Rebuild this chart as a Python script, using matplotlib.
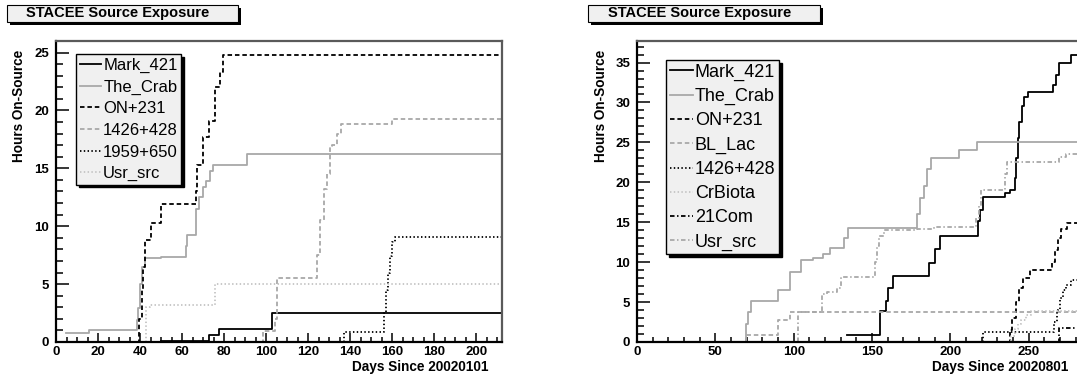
import matplotlib
matplotlib.use("Agg")
import matplotlib.pyplot as plt
from matplotlib.patches import Rectangle
from matplotlib.ticker import MultipleLocator

plt.rcParams['font.family'] = ['Liberation Sans', 'DejaVu Sans']

# ---- left panel data (days since 2002-01-01, cumulative hours) ----
l_mark421_d = [50, 72.8, 77.7, 103.0, 212]
l_mark421_h = [0.08, 0.6, 1.1, 2.5, 2.5]
l_crab_d = [4.9, 15.9, 38.4, 39.2, 40.2, 41.0, 42.3, 50.0, 61.7, 62.5, 66.6, 68.2, 69.8, 71.5, 73.1, 74.7, 90.8, 212]
l_crab_h = [0.8, 1.0, 1.9, 2.9, 5.0, 6.5, 7.25, 7.35, 8.3, 9.2, 11.5, 12.5, 13.4, 13.9, 14.8, 15.3, 16.25, 16.25]
l_on231_d = [38.4, 39.5, 40.7, 41.5, 42.3, 45.3, 49.9, 66.5, 67.3, 69.8, 73.0, 75.5, 78.0, 79.3, 212]
l_on231_h = [0.0, 2.0, 4.5, 6.5, 8.8, 10.3, 11.9, 13.0, 15.3, 17.75, 19.1, 22.0, 23.3, 24.8, 24.8]
l_1426_d = [97.6, 98.5, 104.0, 105.0, 124.0, 125.5, 127.5, 129.0, 130.5, 131.5, 133.5, 135.5, 160.0, 212]
l_1426_h = [0.0, 0.95, 2.0, 5.55, 7.5, 10.5, 13.2, 14.5, 16.9, 17.0, 18.0, 18.8, 19.3, 19.3]
l_1959_d = [137.0, 137.0, 156.0, 157.0, 158.0, 159.0, 160.0, 161.5, 212]
l_1959_h = [0.0, 0.9, 2.5, 4.5, 6.0, 7.4, 8.6, 9.1, 9.1]
l_usr_d = [42.8, 42.8, 44.5, 75.5, 212]
l_usr_h = [0.0, 3.0, 3.2, 5.05, 5.05]

# ---- right panel data (days since 2002-08-01) ----
r_mark421_d = [134.0, 155.4, 159.2, 160.5, 163.2, 186.5, 190.0, 193.5, 217.4, 219.0, 220.8, 235.0, 238.0,
               241.4, 242.0, 243.0, 244.0, 245.5, 247.3, 249.6, 265.5, 267.5, 269.5, 277.2, 290]
r_mark421_h = [0.9, 3.9, 5.1, 6.8, 8.3, 9.9, 11.7, 13.3, 15.2, 16.5, 18.2, 18.7, 19.1,
               20.5, 23.0, 25.5, 27.5, 29.5, 30.7, 31.25, 32.2, 33.5, 35.0, 35.9, 35.9]
r_crab_d = [69.1, 69.6, 70.8, 72.8, 90.1, 97.9, 104.5, 112.3, 119.0, 123.3, 132.2, 134.4,
            178.7, 180.9, 183.1, 185.3, 187.6, 205.3, 216.8, 290]
r_crab_h = [0.0, 2.2, 3.7, 5.08, 6.5, 8.8, 10.3, 10.5, 11.0, 11.8, 13.0, 14.25,
            16.0, 18.0, 19.5, 21.7, 23.1, 24.1, 25.0, 25.0]
r_on231_d = [236.7, 238.0, 239.5, 241.8, 244.0, 246.2, 250.7, 265.0, 266.5, 268.5, 270.5, 274.4, 290]
r_on231_h = [0.0, 1.5, 3.0, 5.0, 6.8, 8.0, 9.0, 10.0, 11.5, 13.0, 14.2, 14.9, 14.9]
r_bllac_d = [69.8, 69.8, 90.1, 97.9, 290]
r_bllac_h = [0.0, 0.85, 2.7, 3.7, 3.7]
r_1426_d = [220.8, 220.8, 266.0, 268.0, 270.0, 272.0, 274.0, 277.0, 290]
r_1426_h = [0.0, 1.3, 2.5, 4.0, 5.5, 6.5, 7.2, 7.8, 7.8]
r_crbiota_d = [237.0, 239.0, 241.0, 243.0, 245.0, 248.0, 251.5, 290]
r_crbiota_h = [0.0, 0.8, 1.6, 2.2, 2.8, 3.4, 3.9, 3.9]
r_21com_d = [268.5, 269.5, 290]
r_21com_h = [0.0, 1.8, 1.8]
r_usr_d = [102.7, 102.7, 117.8, 121.0, 127.8, 130.5, 152.0, 153.0, 154.3, 157.7, 178.7, 189.8,
           216.3, 218.0, 219.7, 233.5, 234.8, 236.3, 269.5, 273.8, 290]
r_usr_h = [0.0, 3.7, 6.0, 6.3, 6.8, 8.2, 10.0, 12.0, 13.3, 14.0, 14.2, 14.45,
           15.5, 17.0, 19.0, 19.1, 21.0, 22.5, 23.2, 23.5, 23.5]

BLACK = 'black'
GRAY = '#a8a8a8'
LGRAY = '#c4c4c4'
DASH = (0, (2.5, 1.6))
DOT = (0, (0.8, 1.3))
DASHDOT = (0, (2.5, 1.4, 0.8, 1.4))

left_series = [
    ('Mark_421', l_mark421_d, l_mark421_h, BLACK, '-'),
    ('The_Crab', l_crab_d, l_crab_h, GRAY, '-'),
    ('ON+231', l_on231_d, l_on231_h, BLACK, DASH),
    ('1426+428', l_1426_d, l_1426_h, GRAY, DASH),
    ('1959+650', l_1959_d, l_1959_h, BLACK, DOT),
    ('Usr_src', l_usr_d, l_usr_h, LGRAY, DOT),
]
right_series = [
    ('Mark_421', r_mark421_d, r_mark421_h, BLACK, '-'),
    ('The_Crab', r_crab_d, r_crab_h, GRAY, '-'),
    ('ON+231', r_on231_d, r_on231_h, BLACK, DASH),
    ('BL_Lac', r_bllac_d, r_bllac_h, GRAY, DASH),
    ('1426+428', r_1426_d, r_1426_h, BLACK, DOT),
    ('CrBiota', r_crbiota_d, r_crbiota_h, LGRAY, DOT),
    ('21Com', r_21com_d, r_21com_h, BLACK, DASHDOT),
    ('Usr_src', r_usr_d, r_usr_h, GRAY, DASHDOT),
]

W, H = 1077, 377
fig = plt.figure(figsize=(W / 100, H / 100), dpi=100)


def title_box(x0, x1, tx, text):
    y0, y1 = 5, 22
    fig.patches.append(Rectangle(((x0 + 3) / W, 1 - (y1 + 3) / H), (x1 - x0) / W, (y1 - y0) / H,
                                 transform=fig.transFigure, facecolor='black', edgecolor='none'))
    fig.patches.append(Rectangle((x0 / W, 1 - y1 / H), (x1 - x0) / W, (y1 - y0) / H,
                                 transform=fig.transFigure, facecolor='#f0f0f0', edgecolor='black', lw=0.8))
    fig.text(tx / W, 1 - (y0 + y1) / 2 / H, text, fontsize=10.5, fontweight='bold',
             ha='left', va='center')


def panel(rect, series, xmax, ymax, xmaj, xmin, xlabel, leg_xy, leg_fs):
    ax = fig.add_axes(rect)
    for name, d, h, c, ls in series:
        ax.plot(d, h, drawstyle='steps-post', color=c, linestyle=ls, lw=1.3, label=name)
    ax.set_xlim(0, xmax)
    ax.set_ylim(0, ymax)
    ax.xaxis.set_major_locator(MultipleLocator(xmaj))
    ax.xaxis.set_minor_locator(MultipleLocator(xmin))
    ax.yaxis.set_major_locator(MultipleLocator(5))
    ax.yaxis.set_minor_locator(MultipleLocator(1))
    ax.tick_params(axis='both', which='both', direction='in', top=False, right=False,
                   width=1.1, labelsize=9.5)
    ax.tick_params(axis='y', which='major', length=9, pad=5)
    ax.tick_params(axis='y', which='minor', length=5.3)
    ax.tick_params(axis='x', which='major', length=6.5, pad=3)
    ax.tick_params(axis='x', which='minor', length=3.5)
    for lab in ax.get_xticklabels() + ax.get_yticklabels():
        lab.set_fontweight('bold')
    for s in ['left', 'bottom']:
        ax.spines[s].set_linewidth(1.6)
        ax.spines[s].set_color('black')
    for s in ['top', 'right']:
        ax.spines[s].set_linewidth(1.6)
        ax.spines[s].set_color('#5a5a5a')
    ax.text(-0.082, 0.97, 'Hours On-Source', rotation=90, ha='center', va='top',
            transform=ax.transAxes, fontsize=9.8, fontweight='bold')
    ax.text(0.97, -0.083, xlabel, ha='right', va='center', transform=ax.transAxes,
            fontsize=9.8, fontweight='bold')
    leg = ax.legend(loc='upper left', bbox_to_anchor=leg_xy, borderaxespad=0, fontsize=leg_fs,
                    handlelength=1.3, handletextpad=0.1, borderpad=0.2, labelspacing=0.4,
                    fancybox=False, framealpha=1, facecolor='#f0f0f0', edgecolor='black',
                    shadow={'color': 'black', 'alpha': 1})
    leg.get_frame().set_linewidth(1.0)
    return ax


title_box(7, 238, 26, 'STACEE Source Exposure')
title_box(588, 820, 608, 'STACEE Source Exposure')

panel([56 / W, 35 / H, 445.5 / W, 301 / H], left_series, 212, 26.0, 20, 5,
      'Days Since 20020101', (0.046, 0.956), 12)
ax2 = panel([637 / W, 35 / H, 445 / W, 301 / H], right_series, 284, 37.7, 50, 10,
            'Days Since 20020801', (0.065, 0.937), 13)

fig.savefig('out.png', dpi=100)
